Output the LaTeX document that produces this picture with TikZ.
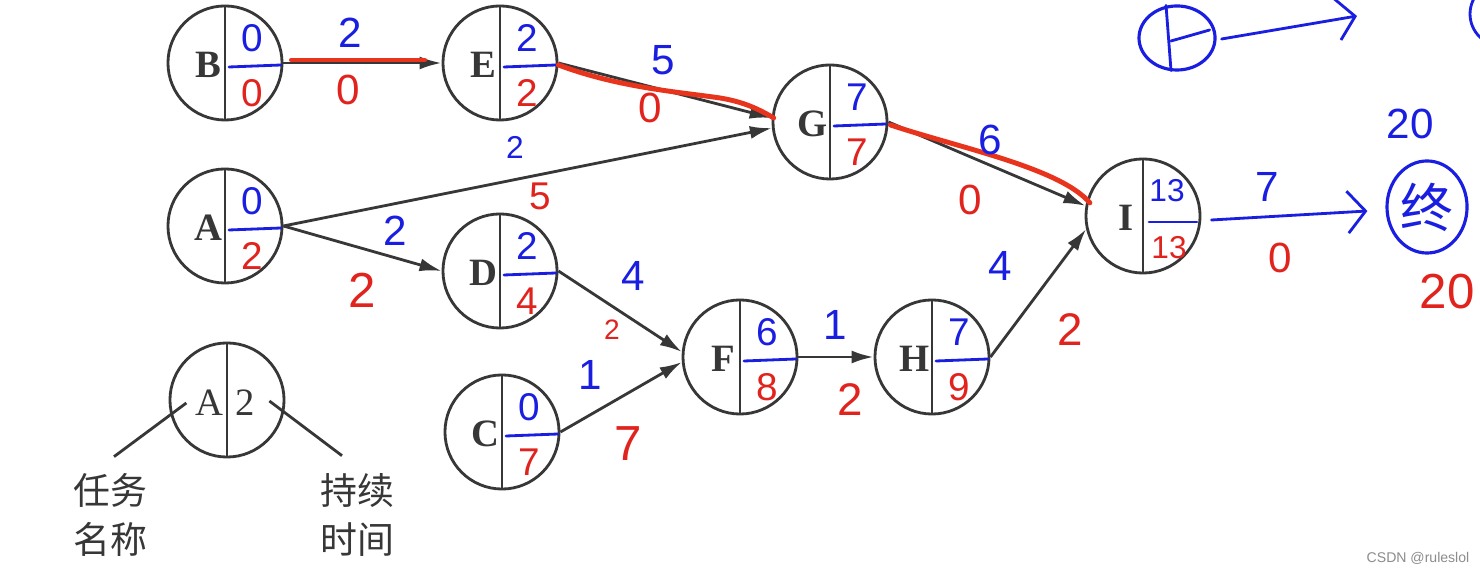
\documentclass[tikz,border=0pt]{standalone}
\usepackage{fontspec}
\setmainfont{Liberation Serif}
\setsansfont{Liberation Sans}
\newfontfamily\cjk{Noto Sans CJK SC}
\usetikzlibrary{calc,arrows.meta,shapes.geometric}
\definecolor{hblue}{RGB}{25,30,225}
\definecolor{hred}{RGB}{225,35,30}
\definecolor{ink}{RGB}{55,55,55}
\definecolor{hilite}{RGB}{232,52,28}
\newcommand\tasknode[5]{%
  \node[task] (#1) at (#2) {};
  \draw[divline] (#1.north) -- (#1.south);
  \node[letter] (#1l) at ($(#1)+(-17,2)$) {#3};
  \node[upnum] (#1t) at ($(#1)+(27,-25)$) {#4};
  \node[lownum] (#1b) at ($(#1)+(27,30)$) {#5};
  \draw[bline] ($(#1)+(4,4)$) -- ($(#1)+(56,2)$);
}
\begin{document}
\begin{tikzpicture}[x=0.01cm,y=-0.01cm,
  task/.style={circle,draw=ink,line width=0.8pt,minimum size=1.14cm,inner sep=0pt},
  divline/.style={draw=ink,line width=0.8pt},
  letter/.style={font=\fontsize{11}{11}\selectfont\bfseries,text=ink,inner sep=0pt},
  upnum/.style={font=\sffamily\fontsize{11}{11}\selectfont,text=hblue,inner sep=0pt},
  lownum/.style={font=\sffamily\fontsize{11}{11}\selectfont,text=hred,inner sep=0pt},
  small/.style={font=\sffamily\fontsize{9}{9}\selectfont},
  wtop/.style={font=\sffamily\fontsize{12}{12}\selectfont,text=hblue,inner sep=0pt},
  wbot/.style={font=\sffamily\fontsize{12}{12}\selectfont,text=hred,inner sep=0pt},
  conn/.style={draw=ink,line width=0.8pt,-{Latex[length=0.22cm,width=0.13cm]}},
  hl/.style={draw=hilite,line width=1.4pt,line cap=round},
  bline/.style={draw=hblue,line width=0.8pt,line cap=round},
  barb/.style={bline,-{Straight Barb[length=0.18cm,width=0.42cm]}},
  cjktext/.style={font=\cjk\fontsize{10.5}{14}\selectfont,text=ink,align=center,inner sep=0pt},
]
\useasboundingbox (0,0) rectangle (1480,574);
\fill[white] (0,0) rectangle (1480,574);

% task nodes
\tasknode{B}{225,63}{B}{0}{0}
\tasknode{E}{500,63}{E}{2}{2}
\tasknode{A}{225,226}{A}{0}{2}
\tasknode{D}{500,271}{D}{2}{4}
\tasknode{C}{502,432}{C}{0}{7}
\tasknode{G}{830,122}{G}{7}{7}
\tasknode{F}{740,357}{F}{6}{8}
\tasknode{H}{932,357}{H}{7}{9}
\node[task] (I) at (1143,216) {};
\draw[divline] (I.north) -- (I.south);
\node[letter] (Il) at ($(I)+(-17,2)$) {I};
\node[upnum,small] (It) at ($(I)+(24,-25)$) {13};
\node[lownum,small] (Ib) at ($(I)+(26,32)$) {13};
\draw[bline] ($(I)+(6,6)$) -- ($(I)+(54,6)$);

% connectors
\draw[conn] (B.east) -- (E.west);
\draw[conn] (E.east) -- (G.176);
\draw[conn] (A.east) -- (G.186);
\draw[conn] (A.east) -- (D.west);
\draw[conn] (D.east) -- (F.175);
\draw[conn] (C.east) -- (F.185);
\draw[conn] (F.east) -- (H.west);
\draw[conn] (G.east) -- (I.170);
\draw[conn] (H.east) -- (I.193);

% critical path highlight
\draw[hl] ($(B.east)+(8,-3)$) -- ($(E.west)+(-17,-3)$);
\draw[hl] ($(E.east)+(0,2)$) .. controls (620,88) and (680,92) .. (720,98)
          .. controls (745,102) and (760,110) .. ($(G.176)+(2,0)$);
\draw[hl] ($(G.east)+(2,3)$) .. controls (960,148) and (1060,168) .. ($(I.168)+(4,-1)$);

% edge labels
\node[wtop] (l1) at (350,33) {2};  \node[wbot] (m1) at (348,90) {0};
\node[wtop] (l2) at (663,60) {5};  \node[wbot] (m2) at (650,108) {0};
\node[wtop,font=\sffamily\fontsize{9}{9}\selectfont] (l3) at (515,147) {2};
\node[wbot,font=\sffamily\fontsize{11}{11}\selectfont] (m3) at (540,196) {5};
\node[wtop] (l4) at (395,231) {2};
\node[wbot,font=\sffamily\fontsize{14}{14}\selectfont] (m4) at (362,290) {2};
\node[wtop] (l5) at (633,276) {4};
\node[wbot,font=\sffamily\fontsize{8}{8}\selectfont] (m5) at (612,330) {2};
\node[wtop] (l6) at (590,375) {1};
\node[wbot,font=\sffamily\fontsize{14}{14}\selectfont] (m6) at (628,444) {7};
\node[wtop] (l7) at (835,325) {1};  \node[wbot,font=\sffamily\fontsize{13}{13}\selectfont] (m7) at (850,400) {2};
\node[wtop] (l8) at (990,140) {6};  \node[wbot] (m8) at (970,200) {0};
\node[wtop] (l9) at (1000,266) {4}; \node[wbot,font=\sffamily\fontsize{13}{13}\selectfont] (m9) at (1070,330) {2};
\node[wtop] (l10) at (1267,187) {7}; \node[wbot] (m10) at (1280,258) {0};

% end node (handwritten)
\node[ellipse,draw=hblue,line width=0.9pt,minimum width=0.8cm,minimum height=0.92cm,inner sep=0pt,
      font=\cjk\fontsize{15}{15}\selectfont,text=hblue] (End) at (1427,207) {终};
\draw[barb] ($(I.east)+(10,4)$) -- ($(End.west)+(-18,4)$);
\node[wtop] (e20) at (1410,124) {20};
\node[wbot,font=\sffamily\fontsize{14}{14}\selectfont] (l20) at (1447,292) {20};

% handwritten template node at top
\node[ellipse,draw=hblue,line width=0.9pt,minimum width=0.76cm,minimum height=0.64cm,inner sep=0pt] (S) at (1177,38) {};
\draw[bline] ($(S.north)+(-11,1)$) -- ($(S.south)+(-6,-1)$);
\draw[bline] ($(S.center)+(-6,3)$) -- ($(S.east)+(-7,-8)$);
\coordinate (Sarr) at (1357,16);
\draw[barb] ($(S.east)+(5,1)$) -- (Sarr);
\begin{scope}
  \clip (0,0) rectangle (1480,574);
  \draw[bline] (1502,14) circle [x radius=32, y radius=32];
\end{scope}

% legend
\node[task] (L) at (227,400) {};
\draw[divline] (L.north) -- (L.south);
\node[letter,font=\fontsize{11}{11}\selectfont] (La) at (209,403) {A};
\node[letter,font=\fontsize{11}{11}\selectfont] (Lb) at (245,403) {2};
\node[cjktext] (T1) at (110,515) {任务\\名称};
\node[cjktext] (T2) at (357,515) {持续\\时间};
\draw[divline] ($(La.west)+(-8,0)$) -- ($(T1.north)+(4,-16)$);
\draw[divline] ($(Lb.east)+(14,-2)$) -- ($(T2.north)+(-15,-17)$);

% watermark
\node[font=\sffamily\fontsize{4}{4}\selectfont,text=black!45,inner sep=0pt] (wm) at (1418,558) {CSDN @ruleslol};
\end{tikzpicture}
\end{document}
